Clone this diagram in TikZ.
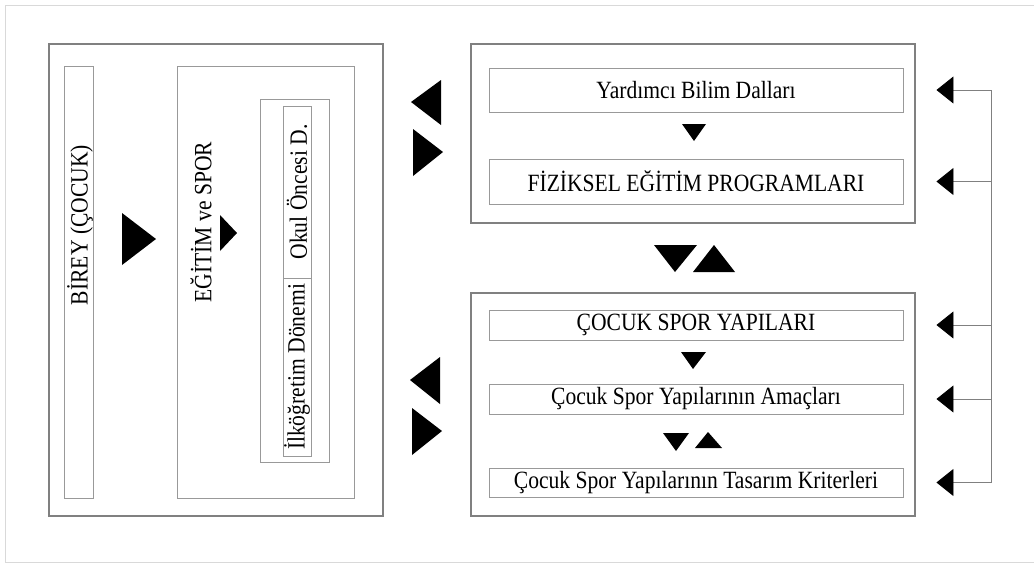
\documentclass[tikz,border=0pt]{standalone}
\usepackage{fontspec}
\setmainfont[FakeStretch=0.87]{Liberation Serif}
\usetikzlibrary{arrows.meta}
\usetikzlibrary{positioning}

\tikzset{
	cerceve/.style={draw=black!50, line width=1.1pt, inner sep=0pt},
	kutu/.style={draw=black!40, line width=0.9pt, inner sep=0pt},
	besleme/.style={draw=black!50, line width=0.9pt, -{Triangle[length=17pt,width=27pt,color=black]}}
}

\begin{document}
\begin{tikzpicture}[x=1pt, y=-1pt, font=\fontsize{24.8}{28}\selectfont]
		\useasboundingbox (0,0) rectangle (1034,563);
		\draw[black!15, line width=1pt] (1040,5) -- (5,5) -- (5,562) -- (1040,562);
		% sol blok
		\node[cerceve, minimum width=334, minimum height=472] (sol) at (216,280) {};
		\node[kutu, minimum width=29, minimum height=432] (bireykutu) at (78.5,282) {};
		\node[rotate=90] (birey) at (80,225) {BİREY (ÇOCUK)};
		\node[kutu, minimum width=177, minimum height=432] (egitimkutu) at (265.5,282) {};
		\node[rotate=90] (egitim) at (201,222) {EĞİTİM ve SPOR};
		\node[kutu, minimum width=69, minimum height=363] (donem) at (295,280.5) {};
		\node[kutu, rotate=90, minimum width=172, minimum height=28] (okul) at (297,192) {Okul Öncesi D.};
		\node[kutu, rotate=90, minimum width=178, minimum height=28] (ilk) at (297,367) {İlköğretim Dönemi};
		\fill (122,213) -- (156,239) -- (122,265) -- cycle;
		\fill (220,215) -- (237,233) -- (220,251) -- cycle;
		% sag ust blok
		\node[cerceve, minimum width=444, minimum height=179] (ust) at (693,133.5) {};
		\node[kutu, minimum width=414, minimum height=44] (yardimci) at (696,90) {Yardımcı Bilim Dalları};
		\node[kutu, minimum width=414, minimum height=45] (fiziksel) at (696,181.5) {FİZİKSEL EĞİTİM PROGRAMLARI};
		\fill (682,124) -- (706,124) -- (694,141) -- cycle;
		\fill (441,80) -- (411,102) -- (441,125) -- cycle;
		\fill (413,129) -- (443,152) -- (413,176) -- cycle;
		\fill (654,245) -- (697,245) -- (675,272) -- cycle;
		\fill (693,272) -- (735,272) -- (714,245) -- cycle;
		% sag alt blok
		\node[cerceve, minimum width=444, minimum height=223] (alt) at (693,404.5) {};
		\node[kutu, minimum width=414, minimum height=30] (cocuk) at (696,325) {ÇOCUK SPOR YAPILARI};
		\node[kutu, minimum width=414, minimum height=30] (amac) at (696,399) {Çocuk Spor Yapılarının Amaçları};
		\node[kutu, minimum width=414, minimum height=29] (tasarim) at (696,482.5) {Çocuk Spor Yapılarının Tasarım Kriterleri};
		\fill (681,352) -- (706,352) -- (693,369) -- cycle;
		\fill (663,433) -- (689,433) -- (676,451) -- cycle;
		\fill (695,448) -- (722,448) -- (708,432) -- cycle;
		\fill (440,357) -- (410,380) -- (440,404) -- cycle;
		\fill (412,408) -- (442,431) -- (412,455) -- cycle;
		% geri besleme
		\coordinate (bus) at (991,0);
		\draw[black!50, line width=0.9pt] (yardimci.east -| bus) -- (tasarim.east -| bus);
		\foreach \k in {yardimci,fiziksel,cocuk,amac,tasarim}
			\draw[besleme] (\k.east -| bus) -- ([xshift=33pt]\k.east);
\end{tikzpicture}
\end{document}
